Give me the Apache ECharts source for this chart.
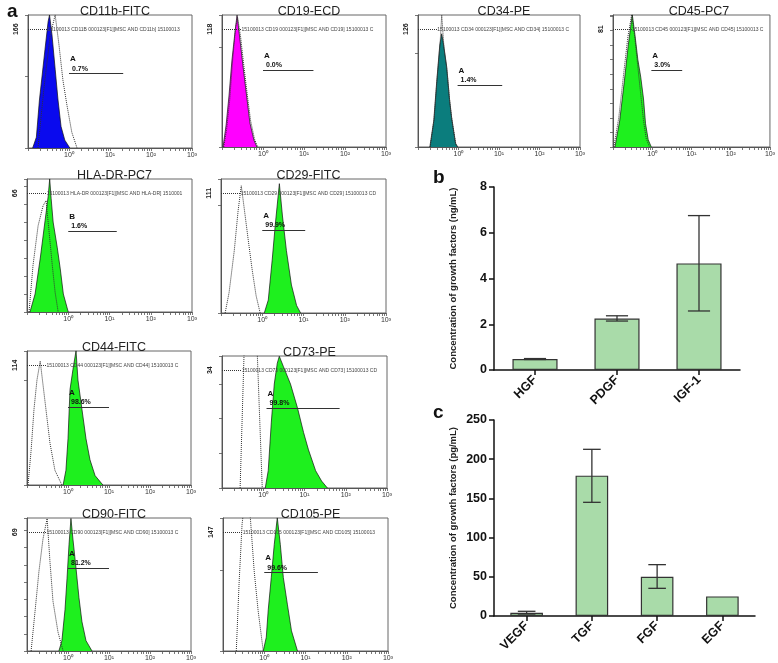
<!DOCTYPE html>
<html><head><meta charset="utf-8">
<script src="https://cdn.jsdelivr.net/npm/echarts@6/dist/echarts.min.js"></script>
<style>html,body{margin:0;padding:0;background:#fff}#c{width:778px;height:663px}</style>
</head><body><div id="c"></div>
<script>
// ---------------- Panel a : flow cytometry histograms ----------------
const histTitles = ['CD11b-FITC','CD19-ECD','CD34-PE','CD45-PC7','HLA-DR-PC7','CD29-FITC','CD44-FITC','CD73-PE','CD90-FITC','CD105-PE'];
const histMaxLabels = [166,118,126,81,66,111,114,34,69,147];
const histTickSteps = [100,100,100,10,10,100,100,10,10,100];
const gateLetters = ['A','A','A','A','B','A','A','A','A','A'];
const gatePercents = ['0.7%','0.0%','1.4%','3.0%','1.6%','99.9%','98.6%','99.8%','81.2%','99.6%'];
const gateStarts = [1.0,1.0,0.95,0.95,1.0,1.0,1.0,1.2,1.0,1.0];
const gateEnds = [21,17,12,5.8,15,11,10,71,10,20];
const gateLevels = [104,77,66,53,45,77,74,23,48,97];
const markerTexts = [
  '15100013 CD11B 000123[F1][MSC AND CD11b] 15100013 CD11B',
  '15100013 CD19 000123[F1][MSC AND CD19] 15100013 CD19 000123[F1]',
  '15100013 CD34 000123[F1][MSC AND CD34] 15100013 CD34',
  '15100013 CD45 000123[F1][MSC AND CD45] 15100013 CD45',
  '15100013 HLA-DR 000123[F1][MSC AND HLA-DR] 15100013 HLA-DR',
  '15100013 CD29 000123[F1][MSC AND CD29] 15100013 CD29 000',
  '15100013 CD44 000123[F1][MSC AND CD44] 15100013 CD44 000',
  '15100013 CD73 000123[F1][MSC AND CD73] 15100013 CD73 000123 Log [F1][MSC AND',
  '15100013 CD90 000123[F1][MSC AND CD90] 15100013 CD90 000',
  '15100013 CD105 000123[F1][MSC AND CD105] 15100013 CD105'
];
const fillColors = ['#0a0aee','#ff00ff','#0b7d7d','#1ef01e','#1ef01e','#1ef01e','#1ef01e','#1ef01e','#1ef01e','#1ef01e'];

// [fluorescence intensity, count]
const cd11bSample  = [[0.13,0],[0.16,15],[0.19,67],[0.26,138],[0.31,177],[0.335,186],[0.385,158],[0.46,110],[0.54,67],[0.64,30],[0.79,11],[1.05,0]];
const cd11bIsotype = [[0.175,0],[0.245,84],[0.35,158],[0.46,186],[0.57,144],[0.71,95],[0.89,60],[1.17,22],[1.57,0]];
const cd19Sample   = [[0.106,0],[0.126,22],[0.148,51],[0.175,87],[0.21,117],[0.233,132],[0.275,107],[0.325,81],[0.41,47],[0.48,24],[0.60,7],[0.71,0]];
const cd19Isotype  = [[0.11,0],[0.13,18],[0.155,48],[0.18,85],[0.215,120],[0.24,130],[0.285,110],[0.335,84],[0.42,50],[0.50,26],[0.62,8],[0.74,0]];
const cd34Sample   = [[0.196,0],[0.245,28],[0.29,70],[0.345,109],[0.385,121],[0.43,109],[0.51,86],[0.60,51],[0.675,32],[0.845,4],[0.95,0]];
const cd34Isotype  = [[0.2,0],[0.25,30],[0.295,72],[0.35,110],[0.385,141],[0.395,141],[0.44,105],[0.52,82],[0.61,48],[0.69,28],[0.86,3],[0.96,0]];
const cd45Sample   = [[0.112,0],[0.148,18],[0.196,46],[0.245,70],[0.31,91],[0.363,77],[0.43,60],[0.51,48],[0.60,33],[0.675,16],[0.79,5],[0.946,0]];
const cd45Isotype  = [[0.105,0],[0.14,20],[0.19,52],[0.24,76],[0.30,91],[0.36,75],[0.43,55],[0.51,36],[0.60,18],[0.70,6],[0.85,0]];
const hladrSample  = [[0.118,0],[0.157,10],[0.21,30],[0.275,51],[0.325,64],[0.355,74],[0.385,63],[0.43,50],[0.54,36],[0.64,24],[0.76,10],[1.0,0]];
const hladrIsotype = [[0.112,0],[0.14,26],[0.186,48],[0.245,59],[0.29,62],[0.345,44],[0.41,26],[0.48,11],[0.57,0]];
const cd29Sample   = [[1.12,0],[1.40,12],[1.75,50],[2.07,82],[2.60,120],[3.09,90],[3.85,58],[5.1,26],[6.8,7],[8.5,0]];
const cd29Isotype  = [[0.126,0],[0.157,19],[0.21,58],[0.26,95],[0.31,118],[0.36,99],[0.46,67],[0.57,40],[0.71,16],[0.89,0]];
const cd44Sample   = [[0.76,0],[0.89,14],[1.0,44],[1.12,91],[1.32,110],[1.57,128],[1.75,100],[2.19,72],[2.75,44],[3.44,24],[4.57,9],[7.1,0]];
const cd44Isotype  = [[0.106,0],[0.126,33],[0.148,72],[0.175,100],[0.21,118],[0.245,96],[0.29,72],[0.363,40],[0.48,14],[0.71,0]];
const cd73Sample   = [[1.12,0],[1.32,5],[1.57,19],[1.85,30],[2.19,36],[2.45,38],[3.09,35],[4.57,30],[6.8,23],[9.5,16],[12.5,11],[18.6,5],[26,2],[36,0]];
const cd73Isotype  = [[0.275,0],[0.345,40],[0.51,70],[0.71,40],[0.946,0]];
const cd90Sample   = [[0.60,0],[0.71,6],[0.845,24],[0.946,42],[1.06,62],[1.18,77],[1.32,65],[1.57,48],[1.85,31],[2.19,17],[2.75,6],[3.85,0]];
const cd90Isotype  = [[0.126,0],[0.157,23],[0.195,46],[0.245,65],[0.31,77],[0.363,52],[0.43,29],[0.57,11],[0.76,0]];
const cd105Sample  = [[0.946,0],[1.12,17],[1.25,51],[1.48,91],[1.75,132],[2.07,165],[2.45,132],[2.9,91],[3.63,58],[4.57,25],[6.4,0]];
const cd105Isotype = [[0.21,0],[0.245,83],[0.29,157],[0.363,200],[0.46,165],[0.57,99],[0.71,50],[0.946,0]];

// ---------------- Panel b ----------------
const bCategories = ['HGF','PDGF','IGF-1'];
const bMeans = [0.48, 2.25, 4.66];
const bLow   = [0.46, 2.14, 2.58];
const bHigh  = [0.50, 2.37, 6.75];
const bTicks = [0, 2, 4, 6, 8];

// ---------------- Panel c ----------------
const cCategories = ['VEGF','TGF','FGF','EGF'];
const cMeans = [4, 179, 50, 25];
const cLow   = [2.5, 145, 35.3, null];
const cHigh  = [6, 212.6, 65.5, null];
const cTicks = [0, 50, 100, 150, 200, 250];

const samples = [cd11bSample, cd19Sample, cd34Sample, cd45Sample, hladrSample, cd29Sample, cd44Sample, cd73Sample, cd90Sample, cd105Sample];
const isotypes = [cd11bIsotype, cd19Isotype, cd34Isotype, cd45Isotype, hladrIsotype, cd29Isotype, cd44Isotype, cd73Isotype, cd90Isotype, cd105Isotype];

// layout boxes [left, top, width, height]
const boxes = [[28,15,164,133],[222,15,164,132],[418,15,162,132],[613,15,162,132],
               [27,179,165,133],[221,179,165,134],[27,351,164,134],[222,356,165,132],
               [27,518,164,133],[223,518,165,133]];

const logTicks = [];
[0.1, 1, 10, 100].forEach(d => { for (let k = 1; k <= 9; k++) logTicks.push(d * k); });
logTicks.push(1000);
const sup = ['\u2070','\u00b9','\u00b2','\u00b3'];

const FONT = '"Liberation Sans", Arial, sans-serif';
const grid = [], xAxis = [], yAxis = [], series = [], title = [];

title.push({text:'a', left:2, top:-3, textStyle:{fontSize:19, fontWeight:'bold', color:'#111', fontFamily:FONT}});
title.push({text:'b', left:428, top:163, textStyle:{fontSize:19, fontWeight:'bold', color:'#111', fontFamily:FONT}});
title.push({text:'c', left:428, top:398, textStyle:{fontSize:19, fontWeight:'bold', color:'#111', fontFamily:FONT}});

for (let i = 0; i < 10; i++) {
  const [L, T, W, H] = boxes[i];
  const M = histMaxLabels[i];
  title.push({text: histTitles[i], left: L + W / 2, top: T - 15, textAlign: 'center',
    textStyle: {fontSize: 12.5, fontWeight: 'normal', color: '#222', fontFamily: FONT}});
  grid.push({left: L, top: T, width: W, height: H, show: true, borderColor: '#666', borderWidth: 1, backgroundColor: 'transparent'});
  xAxis.push({type: 'log', logBase: 10, gridIndex: i, min: 0.1, max: 1000,
    axisLine: {show: true, lineStyle: {color: '#555', width: 1}},
    axisTick: {show: true, length: 3, customValues: logTicks, lineStyle: {color: '#555', width: 0.8}},
    axisLabel: {customValues: [1, 10, 100, 1000], fontSize: 7, color: '#333', margin: 4, fontFamily: FONT,
      formatter: v => '10' + sup[Math.round(Math.log10(v))]},
    splitLine: {show: false}});
  yAxis.push({type: 'value', gridIndex: i, min: 0, max: M * 1.12, interval: histTickSteps[i],
    axisLine: {show: true, lineStyle: {color: '#555', width: 1}},
    axisTick: {show: true, length: 3, lineStyle: {color: '#555', width: 0.8}},
    axisLabel: {customValues: [M], rotate: 90, fontSize: 7, fontWeight: 'bold', color: '#222', margin: 8, fontFamily: FONT},
    splitLine: {show: false}});
  series.push({type: 'line', xAxisIndex: i, yAxisIndex: i, data: samples[i], symbol: 'none', silent: true,
    lineStyle: {color: '#111', width: 0.7}, areaStyle: {color: fillColors[i], opacity: 1}, z: 2,
    markLine: {silent: true, symbol: ['none', 'none'], animation: false, z: 5,
      data: [
        [{coord: [0.1, M], lineStyle: {type: 'dotted', color: '#333', width: 1}, label: {show: false}}, {coord: [0.3, M]}],
        [{coord: [0.3, M], lineStyle: {color: 'rgba(255,255,255,0)', width: 0.1, type: 'solid'},
          label: {show: true, position: 'insideStart', distance: 0,
            formatter: markerTexts[i], fontSize: 5, color: '#444', fontFamily: FONT,
            width: W - 28, overflow: 'truncate', ellipsis: ''}}, {coord: [1000, M]}],
        [{coord: [gateStarts[i], gateLevels[i]], lineStyle: {type: 'solid', color: '#333', width: 1},
          label: {show: true, position: 'insideStartTop', distance: 1, align: 'left',
            formatter: '{l|' + gateLetters[i] + '}\n{p|' + gatePercents[i] + '}',
            rich: {l: {fontSize: 8, fontWeight: 'bold', color: '#111', lineHeight: 11, fontFamily: FONT},
                   p: {fontSize: 7, fontWeight: 'bold', color: '#111', lineHeight: 8, fontFamily: FONT, padding: [0, 0, 0, 2]}}}},
         {coord: [gateEnds[i], gateLevels[i]]}]
      ]}});
  series.push({type: 'line', xAxisIndex: i, yAxisIndex: i, data: isotypes[i], symbol: 'none', silent: true,
    lineStyle: {color: '#333', width: 1, type: 'dotted'}, z: 3});
}

function errRender(params, api) {
  const lo = api.value(1), hi = api.value(2);
  if (lo == null || isNaN(lo) || hi == null || isNaN(hi)) return null;
  const x = api.value(0);
  const p1 = api.coord([x, lo]), p2 = api.coord([x, hi]);
  const half = api.size([1, 0])[0] * 0.135;
  const st = {stroke: '#333', lineWidth: 1.3};
  return {type: 'group', children: [
    {type: 'line', shape: {x1: p1[0], y1: p1[1], x2: p2[0], y2: p2[1]}, style: st},
    {type: 'line', shape: {x1: p1[0] - half, y1: p1[1], x2: p1[0] + half, y2: p1[1]}, style: st},
    {type: 'line', shape: {x1: p2[0] - half, y1: p2[1], x2: p2[0] + half, y2: p2[1]}, style: st}
  ]};
}

function barPanel(idx, box, cats, means, lows, highs, ticks, yName, barW) {
  const [L, T, W, H] = box;
  grid.push({left: L, top: T, width: W, height: H});
  xAxis.push({type: 'category', gridIndex: idx, data: cats,
    axisLine: {show: true, lineStyle: {color: '#111', width: 1.5}},
    axisTick: {show: true, alignWithLabel: true, length: 5, lineStyle: {color: '#111', width: 1.5}},
    axisLabel: {rotate: 45, fontSize: 12.5, fontWeight: 'bold', color: '#111', margin: 8, fontFamily: FONT},
    splitLine: {show: false}});
  yAxis.push({type: 'value', gridIndex: idx, min: ticks[0], max: ticks[ticks.length - 1], interval: ticks[1] - ticks[0],
    axisLine: {show: true, lineStyle: {color: '#111', width: 1.5}},
    axisTick: {show: true, length: 5, lineStyle: {color: '#111', width: 1.5}},
    axisLabel: {fontSize: 12.5, fontWeight: 'bold', color: '#111', margin: 7, fontFamily: FONT},
    splitLine: {show: false},
    name: yName, nameLocation: 'middle', nameGap: 36,
    nameTextStyle: {fontSize: 9.5, fontWeight: 'bold', color: '#222', fontFamily: FONT}});
  series.push({type: 'bar', xAxisIndex: idx, yAxisIndex: idx, data: means, barWidth: barW, silent: true,
    itemStyle: {color: '#a9dba9', borderColor: '#333', borderWidth: 1.2}});
  series.push({type: 'custom', xAxisIndex: idx, yAxisIndex: idx, renderItem: errRender, silent: true, z: 5,
    encode: {x: 0, y: [1, 2]},
    data: cats.map((c, k) => [k, lows[k], highs[k]])});
}

barPanel(10, [494, 187, 246, 183], bCategories, bMeans, bLow, bHigh, bTicks, 'Concentration of growth factors (ng/mL)', '55%');
barPanel(11, [494, 420, 261, 196], cCategories, cMeans, cLow, cHigh, cTicks, 'Concentration of growth factors (pg/mL)', '50%');

const chart = echarts.init(document.getElementById('c'), null, {renderer: 'canvas'});
chart.setOption({animation: false, backgroundColor: '#fff', textStyle: {fontFamily: FONT},
  title, grid, xAxis, yAxis, series});
</script></body></html>
